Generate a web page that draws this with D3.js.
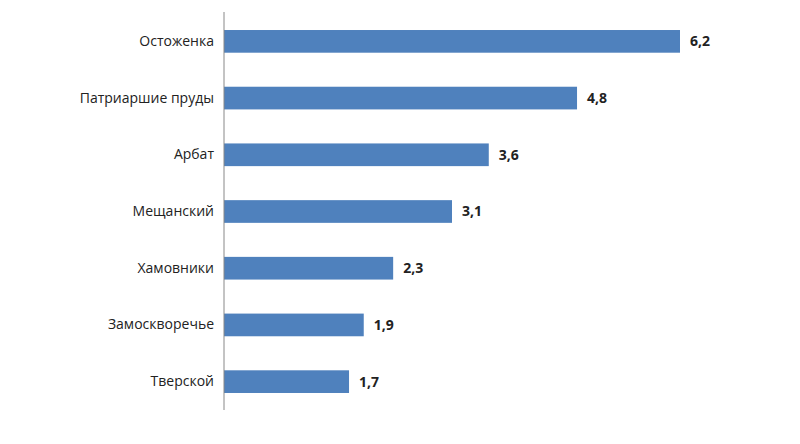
<!DOCTYPE html>
<html><head><meta charset="utf-8">
<script src="https://cdn.jsdelivr.net/npm/d3@7"></script>
<style>body{margin:0;background:#fff}</style></head>
<body><svg id="c" width="800" height="444"></svg>
<script>
const categories=["Остоженка","Патриаршие пруды","Арбат","Мещанский","Хамовники","Замоскворечье","Тверской"];
const values=[6.2,4.8,3.6,3.1,2.3,1.9,1.7];
const svg=d3.select("#c");
const x=d3.scaleLinear().domain([0,6.2]).range([224,680]);
const y=d3.scaleBand().domain(categories).range([13,410]).paddingInner(0.6).paddingOuter(0.3);
svg.selectAll("rect").data(values).join("rect")
 .attr("x",x(0)).attr("y",(d,i)=>y(categories[i])).attr("width",d=>x(d)-x(0)).attr("height",y.bandwidth()).attr("fill","#4F81BD");
svg.selectAll(".v").data(values).join("text")
 .attr("x",d=>x(d)+10).attr("y",(d,i)=>y(categories[i])+y.bandwidth()/2).attr("dy","0.35em")
 .attr("font-family","Open Sans, sans-serif").attr("font-size",14).attr("font-weight","bold").attr("fill","#222")
 .text(d=>d3.format(".1f")(d).replace(".",","));
const ax=svg.append("g").attr("transform","translate(224,0)").call(d3.axisLeft(y).tickSize(0).tickPadding(10));
ax.select(".domain").attr("stroke","#888").attr("d","M0,12V410");
ax.selectAll("text").attr("font-family","Open Sans, sans-serif").attr("font-size",14).attr("fill","#222");
</script></body></html>
